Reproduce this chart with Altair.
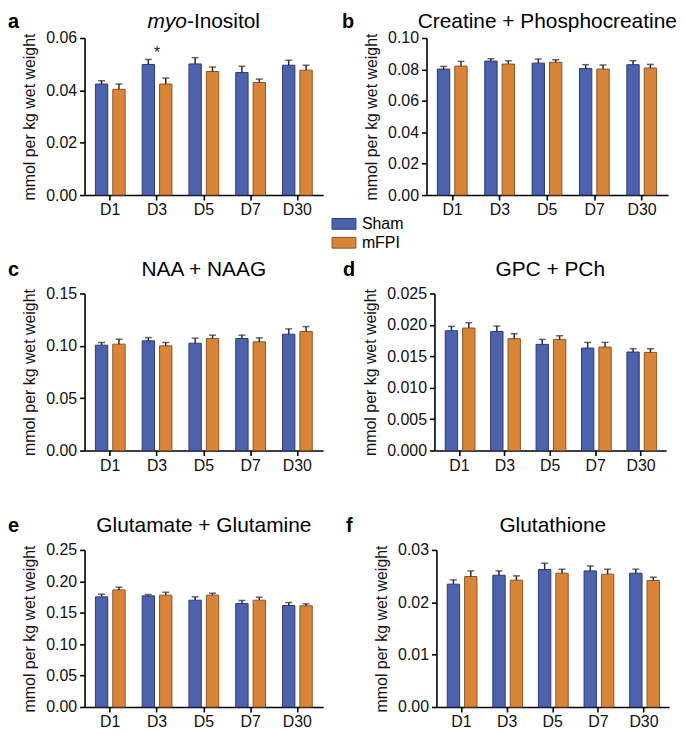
import altair as alt
import pandas as pd

FONT = "Liberation Sans"

days = ["D1", "D3", "D5", "D7", "D30"]
groups = ["Sham", "mFPI"]
letters = ["a", "b", "c", "d", "e", "f"]
titles = ["myo-Inositol", "Creatine + Phosphocreatine", "NAA + NAAG",
          "GPC + PCh", "Glutamate + Glutamine", "Glutathione"]
title_italic_part = "myo"
title_plain_part = "-Inositol"
y_title = "mmol per kg wet weight"

# panel a: myo-Inositol
a_sham = [0.0424, 0.0499, 0.0501, 0.0468, 0.0496]
a_sham_sem = [0.0013, 0.0019, 0.0024, 0.0024, 0.0019]
a_fpi = [0.0404, 0.0424, 0.0472, 0.0430, 0.0477]
a_fpi_sem = [0.0020, 0.0023, 0.0017, 0.0013, 0.0019]
# panel b: Creatine + Phosphocreatine
b_sham = [0.0802, 0.0853, 0.0840, 0.0806, 0.0830]
b_sham_sem = [0.0017, 0.0015, 0.0026, 0.0024, 0.0025]
b_fpi = [0.0821, 0.0834, 0.0845, 0.0802, 0.0809]
b_fpi_sem = [0.0030, 0.0021, 0.0017, 0.0026, 0.0023]
# panel c: NAA + NAAG
c_sham = [0.1006, 0.1048, 0.1025, 0.1070, 0.1111]
c_sham_sem = [0.0026, 0.0031, 0.0048, 0.0032, 0.0051]
c_fpi = [0.1016, 0.1000, 0.1070, 0.1038, 0.1137]
c_fpi_sem = [0.0047, 0.0032, 0.0032, 0.0038, 0.0047]
# panel d: GPC + PCh
d_sham = [0.01907, 0.01896, 0.01690, 0.01631, 0.01568]
d_sham_sem = [0.00069, 0.00085, 0.00079, 0.00090, 0.00053]
d_fpi = [0.01949, 0.01780, 0.01769, 0.01647, 0.01562]
d_fpi_sem = [0.00085, 0.00079, 0.00058, 0.00074, 0.00059]
# panel e: Glutamate + Glutamine
e_sham = [0.1753, 0.1769, 0.1700, 0.1647, 0.1615]
e_sham_sem = [0.0043, 0.0021, 0.0053, 0.0048, 0.0048]
e_fpi = [0.1864, 0.1780, 0.1780, 0.1700, 0.1610]
e_fpi_sem = [0.0043, 0.0047, 0.0031, 0.0048, 0.0032]
# panel f: Glutathione
f_sham = [0.02346, 0.02517, 0.02626, 0.02600, 0.02556]
f_sham_sem = [0.00082, 0.00083, 0.00120, 0.00095, 0.00076]
f_fpi = [0.02492, 0.02422, 0.02556, 0.02537, 0.02416]
f_fpi_sem = [0.00108, 0.00083, 0.00076, 0.00095, 0.00063]

y_max = [0.06, 0.10, 0.15, 0.025, 0.25, 0.03]
y_ticks = [
    [0, 0.02, 0.04, 0.06],
    [0, 0.02, 0.04, 0.06, 0.08, 0.10],
    [0, 0.05, 0.10, 0.15],
    [0, 0.005, 0.010, 0.015, 0.020, 0.025],
    [0, 0.05, 0.10, 0.15, 0.20, 0.25],
    [0, 0.01, 0.02, 0.03],
]
y_formats = [".2f", ".2f", ".2f", ".3f", ".2f", ".2f"]

# significance marker (panel a, D3) - baseline position of the asterisk
sig_day = ["D3"]
sig_pos = [0.0524]
sig_text = ["*"]

series = [
    (a_sham, a_sham_sem, a_fpi, a_fpi_sem),
    (b_sham, b_sham_sem, b_fpi, b_fpi_sem),
    (c_sham, c_sham_sem, c_fpi, c_fpi_sem),
    (d_sham, d_sham_sem, d_fpi, d_fpi_sem),
    (e_sham, e_sham_sem, e_fpi, e_fpi_sem),
    (f_sham, f_sham_sem, f_fpi, f_fpi_sem),
]

BLUE, ORANGE = "#4c62ad", "#d8853a"
BLUE_EDGE, ORANGE_EDGE = "#2c3a78", "#8a5523"

widths = [240, 243, 240, 233, 240, 234]
H = 158
letter_x = [-77, -85, -77, -92, -77, -91]
letter_y = [-10, -10, -18, -18, -18, -18]
title_y = [-10, -10, -18, -18, -18, -18]
TITLE_SIZE = 21


def panel(i):
    s_v, s_e, f_v, f_e = series[i]
    rows = []
    for g, vals, errs in (("Sham", s_v, s_e), ("mFPI", f_v, f_e)):
        for d, v, e in zip(days, vals, errs):
            rows.append({"day": d, "group": g, "value": v, "top": v + e})
    df = pd.DataFrame(rows)
    W = widths[i]

    x = alt.X("day:N", sort=days,
              scale=alt.Scale(paddingInner=0, paddingOuter=0.05),
              axis=alt.Axis(title=None, labelAngle=0))
    xo = alt.XOffset("group:N", sort=groups,
                     scale=alt.Scale(paddingInner=0.29, paddingOuter=0.49))
    yscale = alt.Scale(domain=[0, y_max[i]], nice=False)
    yaxis = alt.Axis(values=y_ticks[i], format=y_formats[i], title=y_title)

    if i == 1:
        legend = alt.Legend(orient="none", legendX=-91, legendY=179, title=None,
                            symbolType="M-2,-0.9H2V0.9H-2Z", symbolSize=144,
                            symbolStrokeColor="#333", symbolStrokeWidth=1,
                            symbolOpacity=1, labelFontSize=16, labelFont=FONT,
                            labelOffset=10, rowPadding=3, padding=0)
    else:
        legend = None

    base = alt.Chart(df)
    bars = base.mark_bar(strokeWidth=1, opacity=1).encode(
        x=x, xOffset=xo,
        y=alt.Y("value:Q", scale=yscale, axis=yaxis),
        color=alt.Color("group:N", sort=groups,
                        scale=alt.Scale(domain=groups, range=[BLUE, ORANGE]),
                        legend=legend),
        stroke=alt.Stroke("group:N", sort=groups,
                          scale=alt.Scale(domain=groups, range=[BLUE_EDGE, ORANGE_EDGE]),
                          legend=None),
    )
    rule = base.mark_rule(color="#2a2a2a", strokeWidth=1.5).encode(
        x=x, xOffset=xo,
        y=alt.Y("value:Q", scale=yscale, axis=yaxis), y2="top:Q")
    cap = base.mark_tick(color="#2a2a2a", thickness=1.5, size=7).encode(
        x=x, xOffset=xo, y=alt.Y("top:Q", scale=yscale, axis=yaxis))

    layers = [bars, rule, cap]

    if i == 0:
        t1 = alt.Chart(pd.DataFrame({"t": [title_italic_part]})).mark_text(
            font=FONT, fontSize=TITLE_SIZE, fontStyle="italic", align="right",
            baseline="alphabetic").encode(text="t:N", x=alt.value(W / 2 - 17),
                                          y=alt.value(title_y[i]))
        t2 = alt.Chart(pd.DataFrame({"t": [title_plain_part]})).mark_text(
            font=FONT, fontSize=TITLE_SIZE, align="left",
            baseline="alphabetic").encode(text="t:N", x=alt.value(W / 2 - 17),
                                          y=alt.value(title_y[i]))
        layers += [t1, t2]
        sig = alt.Chart(pd.DataFrame({"day": sig_day, "pos": sig_pos, "t": sig_text})).mark_text(
            font=FONT, fontSize=16, baseline="alphabetic", color="#222").encode(
            x=x, y=alt.Y("pos:Q", scale=yscale, axis=yaxis), text="t:N")
        layers.append(sig)
    else:
        t = alt.Chart(pd.DataFrame({"t": [titles[i]]})).mark_text(
            font=FONT, fontSize=TITLE_SIZE, align="center",
            baseline="alphabetic").encode(text="t:N", x=alt.value(W / 2),
                                          y=alt.value(title_y[i]))
        layers.append(t)

    lt = alt.Chart(pd.DataFrame({"t": [letters[i]]})).mark_text(
        font=FONT, fontSize=20, fontWeight="bold", align="left",
        baseline="alphabetic").encode(text="t:N", x=alt.value(letter_x[i]),
                                      y=alt.value(letter_y[i]))
    layers.append(lt)

    return alt.layer(*layers).properties(width=W, height=H)


def row(i, j, spacing):
    return alt.hconcat(panel(i), panel(j), spacing=spacing).resolve_scale(
        color="independent", stroke="independent")


top_rows = alt.vconcat(row(0, 1, 13), row(2, 3, 20), spacing=8).resolve_scale(
    color="independent", stroke="independent")

chart = alt.vconcat(
    top_rows,
    row(4, 5, 23),
    spacing=42,
).resolve_scale(color="independent", stroke="independent").properties(
    padding={"left": 0, "top": 1, "right": 0, "bottom": 5}
).configure(font=FONT).configure_view(stroke=None).configure_axis(
    labelFont=FONT, labelFontSize=16, labelColor="#111",
    titleFont=FONT, titleFontSize=16, titleFontWeight="normal", titleColor="#111",
    domainColor="#000", domainWidth=1.6, tickColor="#000", tickWidth=1.6,
    tickSize=5, grid=False, labelPadding=3,
).configure_axisY(titlePadding=8).configure_axisX(labelPadding=2)

chart.save("out.html", embed_options={"renderer": "svg", "actions": False})
